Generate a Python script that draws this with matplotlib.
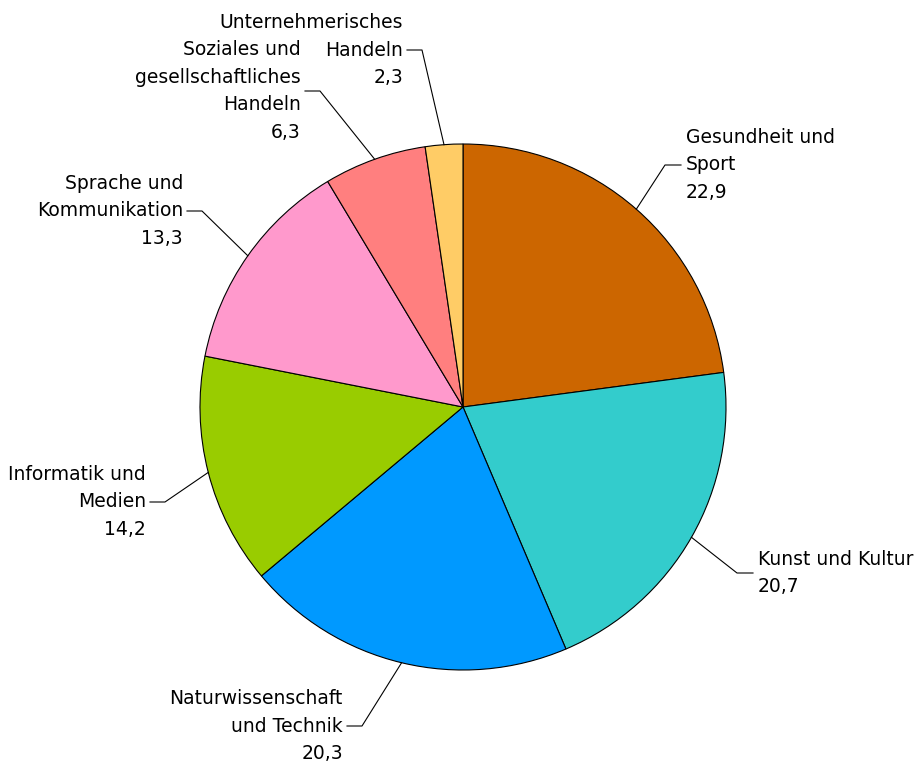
import numpy as np
import matplotlib.pyplot as plt

plt.rcParams['font.family'] = ['DejaVu Sans']

# Anteile in Prozent
categories = ['Gesundheit und\nSport', 'Kunst und Kultur', 'Naturwissenschaft\nund Technik',
              'Informatik und\nMedien', 'Sprache und\nKommunikation',
              'Soziales und\ngesellschaftliches\nHandeln', 'Unternehmerisches\nHandeln']
values = [22.9, 20.7, 20.3, 14.2, 13.3, 6.3, 2.3]
value_labels = ['22,9', '20,7', '20,3', '14,2', '13,3', '6,3', '2,3']
colors = ['#CC6600', '#33CCCC', '#0099FF', '#99CC00', '#FF99CC', '#FF7F7F', '#FFCC66']

# Knickpunkte der Führungslinien (Pixel, y von oben)
elbows = [(665, 165), (737, 573), (362, 726), (165, 502), (202, 211), (320, 91), (422, 50)]
sides = ['right', 'right', 'left', 'left', 'left', 'left', 'left']

W, H = 920, 763
cx, cy, r = 463, H - 407, 263

fig = plt.figure(figsize=(9.2, 7.63), dpi=100)
ax = fig.add_axes([0, 0, 1, 1])

wedges, _ = ax.pie(values, colors=colors, startangle=90, counterclock=False,
                   center=(cx, cy), radius=r,
                   wedgeprops=dict(edgecolor='black', linewidth=0.8))
ax.set_xlim(0, W)
ax.set_ylim(0, H)
ax.set_aspect('equal')
ax.axis('off')

for w, cat, val, (ex, ey), side in zip(wedges, categories, value_labels, elbows, sides):
    ang = np.deg2rad((w.theta1 + w.theta2) / 2)
    px, py = cx + r * np.cos(ang), cy + r * np.sin(ang)
    ey = H - ey
    if side == 'right':
        hx, tx, ha = ex + 16, ex + 21, 'left'
    else:
        hx, tx, ha = ex - 15, ex - 19, 'right'
    ax.plot([px, ex, hx], [py, ey, ey], color='black', linewidth=0.8)
    ax.text(tx, ey, cat + '\n' + val, ha=ha, va='center', fontsize=13.5,
            linespacing=1.56, multialignment=ha)

fig.savefig('out.png', dpi=100)
